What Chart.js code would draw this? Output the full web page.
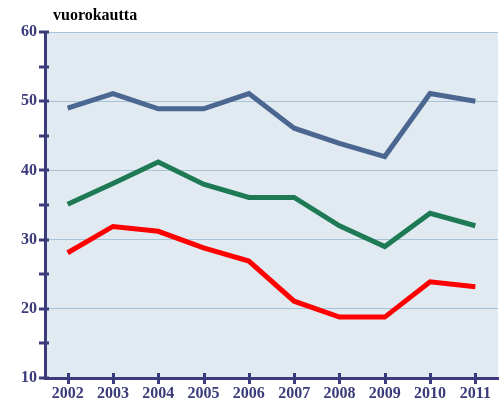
<!DOCTYPE html>
<html>
<head>
<meta charset="utf-8">
<script src="https://cdn.jsdelivr.net/npm/chart.js@4.4.1/dist/chart.umd.min.js"></script>
<style>
  html, body { margin: 0; padding: 0; background: #ffffff; }
  #wrap { position: relative; width: 499px; height: 400px; }
  #ttl { position: absolute; left: 53px; top: 6px; font: bold 16px "Liberation Serif", "DejaVu Serif", serif; color: #000; }
  canvas { display: block; }
</style>
</head>
<body>
<div id="wrap">
  <canvas id="c" width="499" height="400"></canvas>
  <div id="ttl">vuorokautta</div>
</div>
<script>
const years = ['2002','2003','2004','2005','2006','2007','2008','2009','2010','2011'];
const seriesBlue  = [49, 51.1, 48.9, 48.9, 51.1, 46.1, 43.9, 42, 51.1, 50];
const seriesGreen = [35.1, 38.1, 41.2, 38, 36.1, 36.1, 32, 29, 33.8, 32];
const seriesRed   = [28.1, 31.9, 31.2, 28.8, 26.9, 21.1, 18.8, 18.8, 23.9, 23.2];
const yMin = 10, yMax = 60, yStep = 5, yLabelStep = 10;

const AXIS = '#3b3b7b';
const FONT = { family: '"Liberation Serif", "DejaVu Serif", serif', size: 16, weight: 'bold' };

const bgPlugin = {
  id: 'bg',
  beforeDraw(chart) {
    const a = chart.chartArea, ctx = chart.ctx;
    ctx.save();
    ctx.fillStyle = '#e1e9f1';
    ctx.fillRect(a.left, a.top, a.right - a.left, a.bottom - a.top);
    ctx.restore();
  }
};

const tickPlugin = {
  id: 'crossTicks',
  afterDraw(chart) {
    const ctx = chart.ctx, x = chart.scales.x, y = chart.scales.y;
    ctx.save();
    ctx.strokeStyle = AXIS;
    ctx.lineWidth = 3;
    ctx.beginPath();
    y.ticks.forEach(t => {
      const py = Math.round(y.getPixelForValue(t.value));
      ctx.moveTo(x.left - 6, py);
      ctx.lineTo(x.left + 4, py);
    });
    x.ticks.forEach((t, i) => {
      const px = Math.round(x.getPixelForTick(i)) + 0.5;
      ctx.moveTo(px, y.bottom - 5);
      ctx.lineTo(px, y.bottom + 6);
    });
    ctx.stroke();
    ctx.restore();
  }
};

const mkDs = (data, color) => ({
  data, borderColor: color, backgroundColor: color, borderWidth: 5,
  pointRadius: 0, tension: 0, fill: false, borderJoinStyle: 'miter', borderCapStyle: 'butt'
});

new Chart(document.getElementById('c'), {
  type: 'line',
  data: {
    labels: years,
    datasets: [
      mkDs(seriesBlue, '#4b6690'),
      mkDs(seriesGreen, '#1d7a54'),
      mkDs(seriesRed, '#ff0000')
    ]
  },
  options: {
    responsive: false,
    animation: false,
    layout: { padding: { top: 32, right: 1, left: 0, bottom: 0 } },
    plugins: { legend: { display: false }, tooltip: { enabled: false }, title: { display: false } },
    scales: {
      x: {
        offset: true,
        grid: { display: false, drawTicks: false },
        border: { display: true, color: AXIS, width: 3 },
        ticks: { color: AXIS, font: FONT, padding: 6, maxRotation: 0, autoSkip: false },
        afterFit(s) { s.height = 22; }
      },
      y: {
        min: yMin, max: yMax,
        grid: {
          drawTicks: false,
          color: ctx => (ctx.tick && ctx.tick.value % yLabelStep === 0 && ctx.tick.value !== yMin) ? '#a7c3d5' : 'rgba(0,0,0,0)',
          lineWidth: 1
        },
        border: { display: true, color: AXIS, width: 3 },
        ticks: {
          stepSize: yStep, color: AXIS, font: FONT, padding: 8,
          callback: v => (v % yLabelStep === 0 ? String(v) : '')
        },
        afterFit(s) { s.width = 45; }
      }
    }
  },
  plugins: [bgPlugin, tickPlugin]
});
</script>
</body>
</html>
